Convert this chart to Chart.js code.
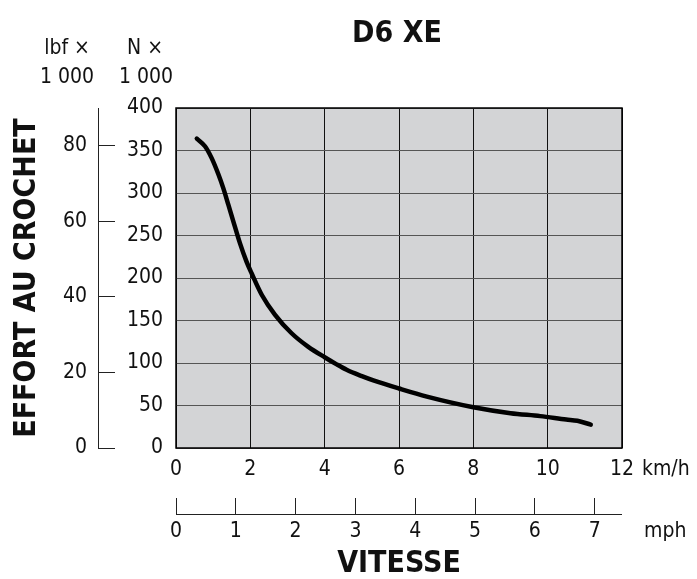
<!DOCTYPE html>
<html>
<head>
<meta charset="utf-8">
<script src="https://cdn.jsdelivr.net/npm/chart.js@4"></script>
<style>
  html, body { margin: 0; padding: 0; background: #fff; }
  #wrap { width: 697px; height: 579px; }
</style>
</head>
<body>
<div id="wrap"><canvas id="chart" width="697" height="579"></canvas></div>
<script>
// drawbar pull curve (km/h, kN)
const speedKmh = [0.56, 0.78, 0.96, 1.14, 1.27, 1.41, 1.54, 1.72, 1.90, 2.04, 2.31, 2.66, 3.11, 3.56, 4.01, 4.3, 4.59, 5.0, 5.31, 6.0, 6.75, 8.0, 9.0, 9.8, 10.5, 10.8, 11.16];
const pullKN   = [364, 355, 341, 322, 306, 286, 267, 241, 219, 205, 180, 157, 135, 119, 106.5, 99, 92, 84.5, 79.5, 70, 60.5, 48, 41, 37.5, 33.5, 32, 27.5];

const chartTitle = 'D6 XE';
const yTitle = 'EFFORT AU CROCHET';
const xTitle = 'VITESSE';
const KMH_PER_MPH = 1.609344;
const N_PER_LBF = 4.44822;

const FONT = "'Liberation Sans Narrow', 'DejaVu Sans Condensed', 'Roboto Condensed', 'Arial Narrow', sans-serif";
const TICK_FONT = { family: FONT, size: 21 };
const BIG_FONT = { family: FONT, size: 30, weight: 'bold', lineHeight: 1 };

const extras = {
  id: 'extras',
  beforeDraw(chart) {
    const { ctx, chartArea: a } = chart;
    ctx.save();
    ctx.fillStyle = '#d3d4d6';
    ctx.fillRect(a.left, a.top, a.right - a.left, a.bottom - a.top);
    ctx.restore();
  },
  afterDraw(chart) {
    const { ctx, chartArea: a } = chart;
    const lbf = chart.scales.lbf, mph = chart.scales.mph;
    ctx.save();
    // plot frame
    ctx.strokeStyle = '#000';
    ctx.lineWidth = 1.5;
    ctx.strokeRect(a.left, a.top, a.right - a.left, a.bottom - a.top);

    // lbf axis line, ticks point right of it
    ctx.lineWidth = 1;
    ctx.strokeStyle = '#222';
    const lx = lbf.right - 17 + 0.5;
    ctx.beginPath();
    ctx.moveTo(lx, lbf.getPixelForValue(lbf.max));
    ctx.lineTo(lx, lbf.getPixelForValue(0));
    ctx.stroke();

    // mph axis line, ticks point up
    const my = mph.top + 16 + 0.5;
    ctx.beginPath();
    ctx.moveTo(mph.getPixelForValue(0), my);
    ctx.lineTo(mph.getPixelForValue(mph.max), my);
    ctx.stroke();

    ctx.fillStyle = '#111';
    ctx.textBaseline = 'middle';
    ctx.textAlign = 'center';
    ctx.font = `bold 30px ${FONT}`;
    ctx.fillText(chartTitle, (a.left + a.right) / 2 - 2, 34);

    ctx.font = `21px ${FONT}`;
    ctx.fillText('lbf \u00d7', 67, 49);
    ctx.fillText('1 000', 67, 78);
    ctx.fillText('N \u00d7', 145, 49);
    ctx.fillText('1 000', 146, 78);

    ctx.textAlign = 'left';
    ctx.fillText('km/h', a.right + 20, a.bottom + 22);
    ctx.fillText('mph', a.right + 22, mph.top + 34);
    ctx.restore();
  }
};

new Chart(document.getElementById('chart'), {
  type: 'line',
  data: {
    datasets: [{
      data: speedKmh.map((v, i) => ({ x: v, y: pullKN[i] })),
      borderColor: '#000',
      borderWidth: 4.5,
      borderCapStyle: 'round',
      borderJoinStyle: 'round',
      pointRadius: 0,
      cubicInterpolationMode: 'monotone',
      xAxisID: 'x',
      yAxisID: 'y'
    }]
  },
  options: {
    responsive: false,
    animation: false,
    layout: { padding: { top: 108, right: 75, left: 0, bottom: 0 } },
    plugins: { legend: { display: false }, tooltip: { enabled: false }, title: { display: false } },
    scales: {
      x: {
        type: 'linear', position: 'bottom', weight: 0,
        min: 0, max: 12,
        ticks: { stepSize: 2, font: TICK_FONT, color: '#111', padding: 9, maxRotation: 0 },
        grid: { color: '#111', lineWidth: 1, drawTicks: false },
        border: { display: false },
        afterFit(s) { s.height = 50; }
      },
      mph: {
        type: 'linear', position: 'bottom', weight: 1,
        min: 0, max: 12 / KMH_PER_MPH,
        ticks: { stepSize: 1, includeBounds: false, font: TICK_FONT, color: '#111', padding: 5, maxRotation: 0 },
        grid: { drawOnChartArea: false, tickLength: 16, color: '#222', lineWidth: 1 },
        border: { display: false },
        title: { display: true, text: xTitle, font: BIG_FONT, color: '#111', padding: 0 },
        afterFit(s) { s.height = 81; }
      },
      y: {
        type: 'linear', position: 'left', weight: 0,
        min: 0, max: 400,
        ticks: { stepSize: 50, font: TICK_FONT, color: '#111', padding: 13 },
        grid: { color: '#555', lineWidth: 1, drawTicks: false },
        border: { display: false },
        afterFit(s) { s.width = 61; }
      },
      lbf: {
        type: 'linear', position: 'left', weight: 1,
        min: 0, max: 400 / N_PER_LBF,
        ticks: { stepSize: 20, includeBounds: false, font: TICK_FONT, color: '#111', padding: 11 },
        grid: { drawOnChartArea: false, tickLength: 17, color: '#222', lineWidth: 1 },
        border: { display: false },
        title: { display: true, text: yTitle, font: BIG_FONT, color: '#111', padding: { top: 12, bottom: 0 } },
        afterFit(s) { s.width = 115; }
      }
    }
  },
  plugins: [extras]
});
</script>
</body>
</html>
